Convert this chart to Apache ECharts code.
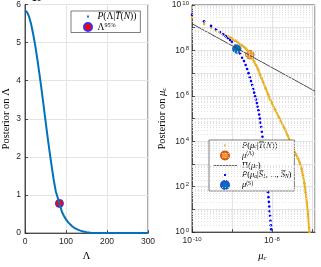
<!DOCTYPE html>
<html><head><meta charset="utf-8">
<script src="https://cdn.jsdelivr.net/npm/echarts@6/dist/echarts.min.js"></script>
<style>html,body{margin:0;padding:0;background:#fff}#c{width:321px;height:267px}</style>
</head><body><div id="c"></div>
<script>
// ---------- left panel data ----------
const lambdaVals = [0,5,10,15,20,25,30,35,40,45,50,55,60,65,70,75,80,85,90,95,100,105,110,115,120,125,130,135,140,150,160,170,180,190,200,220,240,260,280,300];
const postLambda = [5.84,5.80,5.68,5.48,5.22,4.92,4.57,4.19,3.80,3.38,2.95,2.53,2.13,1.76,1.40,1.10,0.92,0.74,0.56,0.45,0.36,0.29,0.23,0.18,0.14,0.11,0.085,0.065,0.048,0.025,0.011,0.005,0.002,0.001,0,0,0,0,0,0];
const lambda95 = [84, 0.78];
const leftXTicks = [0,100,200,300];
const leftYTicks = [0,1,2,3,4,5,6];
// ---------- right panel data ----------
// mu in units of 1e-10, posterior as log10 value
const blueMu = [1,2,3,4,5,6,7,8,9,10,12,14,16,18,20,22,24,26,28,30,32,34,36,38,40,42,44,46,48,50,52,54,56,58,60,62,64,66,68,70,72,74,76,78,80,82,84,86,88,90,92,94,96];
const blueLogP = [9.57,9.28,9.08,8.93,8.81,8.71,8.62,8.54,8.46,8.38,8.20,8.02,7.86,7.68,7.53,7.36,7.18,7.00,6.82,6.65,6.48,6.30,6.14,5.98,5.84,5.68,5.52,5.36,5.18,5.00,4.82,4.63,4.42,4.20,3.98,3.75,3.52,3.28,3.05,2.82,2.60,2.38,2.15,1.95,1.75,1.54,1.33,1.13,0.92,0.72,0.50,0.30,0.12];
const orangeMu = [1,2,3,4,5,6,7,8,9,10,12,14,16,18,20,22,24,26,28,30,33,36,40,45,50,55,60,70,80,90,100,120,150,200,250,300,350,400,450,500,550,600,650,700,750,800,850,870];
const orangeLogP = [9.45,9.16,8.99,8.88,8.79,8.71,8.66,8.61,8.57,8.52,8.43,8.35,8.28,8.21,8.15,8.09,8.02,7.94,7.85,7.76,7.62,7.50,7.35,7.17,6.95,6.78,6.61,6.33,6.07,5.85,5.68,5.40,5.05,4.62,4.25,3.90,3.62,3.42,3.25,3.05,2.80,2.50,2.15,1.75,1.30,0.80,0.20,0.0];
const priorMu = [1e-10, 1.2e-7];
const priorVal = [1.5e9, 1.6e6];
const muLambdaPt = [2.8e-9, 6.5e7];
const muSPt = [1.32e-9, 1.15e8];
const rightXRange = [1e-10, 1.2e-7];
const rightYRange = [1, 1e10];

const UNIT = 1e-10;
const blueData = blueMu.map((m,i)=>[m*UNIT, Math.pow(10, blueLogP[i])]);
const orangeData = orangeMu.map((m,i)=>[m*UNIT, Math.pow(10, orangeLogP[i])]);
const priorData = priorMu.map((m,i)=>[m, priorVal[i]]);

// minor grid positions for log axes (axis decoration)
const xMinor = [], yMinor = [];
for (let e=-10; e<=-8; e++) for (let m=2; m<=9; m++) { const v=m*Math.pow(10,e); if (v<rightXRange[1]) xMinor.push({xAxis:v}); }
for (let e=0; e<=9; e++) for (let m=2; m<=9; m++) yMinor.push({yAxis:m*Math.pow(10,e)});

const SANS = 'Liberation Sans';
const SERIF = 'Liberation Serif';
const TXT = '#262626';
const LFS = 8.5;
function mkRich(fs, lh){
  return {
    i:{fontFamily:SERIF,fontStyle:'italic',fontSize:fs,color:'#000',lineHeight:lh},
    r:{fontFamily:SERIF,fontSize:fs,color:'#000',lineHeight:lh},
    sub:{fontFamily:SERIF,fontStyle:'italic',fontSize:fs*0.65,color:'#000',lineHeight:5,verticalAlign:'bottom'},
    sup:{fontFamily:SERIF,fontSize:fs*0.65,color:'#000',lineHeight:5,verticalAlign:'top'}
  };
}
const richName = {
  i:{fontFamily:SERIF,fontStyle:'italic',fontSize:10.5,color:'#000',lineHeight:12},
  r:{fontFamily:SERIF,fontSize:10.5,color:'#000',lineHeight:12},
  sub:{fontFamily:SERIF,fontStyle:'italic',fontSize:7,color:'#000',lineHeight:7,verticalAlign:'bottom'}
};
const richTick = {
  b:{fontFamily:SANS,fontSize:LFS,color:TXT,lineHeight:10},
  e:{fontFamily:SANS,fontSize:6,color:TXT,lineHeight:6,verticalAlign:'top',padding:[0,0,0,1]}
};
const legendText = {
  'P(Λ|T(N))':'{i|P}{r|(Λ|}{i|T\u0305}{r|(}{i|N}{r|))}',
  'Λ95%':'{r|Λ}{sup|95%}',
  'P(μc|T(N))':'{i|P}{r|(}{i|μ}{sub|c}{r||}{i|T\u0305}{r|(}{i|N}{r|))}',
  'μ(Λ)':'{i|μ}{sup|(Λ)}',
  'Π(μc)':'{r|Π(}{i|μ}{sub|c}{r|)}',
  'P(μa|S)':'{i|P}{r|(}{i|μ}{sub|a}{r||}{i|S\u0305}{sub|1}{r|, ..., }{i|S\u0305}{sub|N}{r|)}',
  'μ(S)':'{i|μ}{sup|(S)}'
};
const DOT = 'path://M0,0M10,10M3.8,3.8h2.4v2.4h-2.4z';
const BAR = 'path://M0,0M24,8M0,3.6h24v0.8h-24z';

function logLabel(v, step){
  const e = Math.log10(v), r = Math.round(e);
  if (Math.abs(e-r) > 1e-6 || ((r % step) + step) % step !== 0) return '';
  return '{b|10}{e|' + r + '}';
}

const chart = echarts.init(document.getElementById('c'), null, {renderer:'canvas'});
const axisCommon = {
  axisLine:{show:true,lineStyle:{color:TXT,width:0.8}},
  axisTick:{show:true,inside:true,length:3,lineStyle:{color:TXT,width:0.8}},
  splitLine:{show:true,lineStyle:{color:'#e4e4e4',width:1}}
};
chart.setOption({
  animation:false,
  backgroundColor:'#fff',
  grid:[
    {left:25,top:4,width:123,height:232,show:true,borderColor:TXT,borderWidth:0.8,containLabel:false},
    {left:192,top:4,width:123,height:232,show:true,borderColor:TXT,borderWidth:0.8,containLabel:false}
  ],
  xAxis:[
    Object.assign({}, axisCommon, {gridIndex:0,type:'value',min:leftXTicks[0],max:leftXTicks[leftXTicks.length-1],interval:100,
      axisLabel:{fontFamily:SANS,fontSize:LFS,color:TXT,margin:4},
      name:'Λ',nameLocation:'middle',nameGap:12,nameTextStyle:{fontFamily:SERIF,fontSize:10.5,color:'#000'}}),
    Object.assign({}, axisCommon, {gridIndex:1,type:'log',logBase:10,min:rightXRange[0],max:rightXRange[1],interval:1,
      axisLabel:{formatter:v=>logLabel(v,2),rich:richTick,margin:4,showMaxLabel:false},
      name:'{i|μ}{sub|c}',nameLocation:'middle',nameGap:13,nameTextStyle:{rich:richName,padding:[0,0,0,18]}})
  ],
  yAxis:[
    Object.assign({}, axisCommon, {gridIndex:0,type:'value',min:leftYTicks[0],max:leftYTicks[leftYTicks.length-1],interval:1,
      axisLabel:{fontFamily:SANS,fontSize:LFS,color:TXT,margin:4},
      name:'Posterior on Λ',nameLocation:'middle',nameGap:13,nameTextStyle:{fontFamily:SERIF,fontSize:10.5,color:'#000'}}),
    Object.assign({}, axisCommon, {gridIndex:1,type:'log',logBase:10,min:rightYRange[0],max:rightYRange[1],interval:1,
      axisLabel:{formatter:v=>logLabel(v,2),rich:richTick,margin:3},
      name:'{r|Posterior on }{i|μ}{sub|c}',nameLocation:'middle',nameGap:24,nameTextStyle:{rich:richName}})
  ],
  legend:[
    {left:71,top:11,orient:'vertical',itemWidth:9,itemHeight:8,itemGap:0.5,padding:[0.5,4,0.5,12],
     backgroundColor:'#fff',borderColor:TXT,borderWidth:0.6,selectedMode:false,
     formatter:n=>legendText[n],textStyle:{rich:mkRich(9.5,10),lineHeight:10},
     data:[{name:'P(Λ|T(N))',icon:DOT},{name:'Λ95%',icon:'circle'}]},
    {left:209,top:140,orient:'vertical',itemWidth:24,itemHeight:8,itemGap:0.5,padding:[1,3,1,4],
     backgroundColor:'#fff',borderColor:TXT,borderWidth:0.6,selectedMode:false,
     formatter:n=>legendText[n],textStyle:{rich:mkRich(8.5,9),lineHeight:9},
     data:[{name:'P(μc|T(N))',icon:DOT},{name:'μ(Λ)',icon:'circle'},{name:'Π(μc)',icon:BAR},{name:'P(μa|S)',icon:DOT},{name:'μ(S)',icon:'circle'}]}
  ],
  graphic:[
    {type:'text',left:27,top:-6,style:{text:'{b|×10}{e|-3}',rich:richTick}}
  ],
  series:[
    {name:'P(Λ|T(N))',type:'line',xAxisIndex:0,yAxisIndex:0,data:lambdaVals.map((x,i)=>[x,postLambda[i]]),
     smooth:false,showSymbol:false,symbol:'none',lineStyle:{color:'#0072BD',width:2,join:'round'},itemStyle:{color:'#0072BD'}},
    {name:'Λ95%',type:'scatter',xAxisIndex:0,yAxisIndex:0,data:[lambda95],symbolSize:8,
     itemStyle:{color:'#FF0000',borderColor:'#3030ff',borderWidth:1,opacity:1}},
    {name:'grid-minor',type:'line',xAxisIndex:1,yAxisIndex:1,data:priorData,symbol:'none',lineStyle:{opacity:0},silent:true,z:1,
     markLine:{silent:true,symbol:['none','none'],label:{show:false},animation:false,
       lineStyle:{color:'#d9d9d9',width:0.8,type:[1,2]},emphasis:{disabled:true},data:xMinor.concat(yMinor)}},
    {name:'P(μc|T(N))-line',type:'line',xAxisIndex:1,yAxisIndex:1,data:orangeData.slice(7),symbol:'none',
     lineStyle:{color:'#EDB120',width:2},clip:true},
    {name:'P(μc|T(N))',type:'scatter',xAxisIndex:1,yAxisIndex:1,data:orangeData,symbolSize:2.6,
     itemStyle:{color:'#EDB120',opacity:1}},
    {name:'μ(Λ)',type:'scatter',xAxisIndex:1,yAxisIndex:1,data:[muLambdaPt],symbolSize:8.5,
     itemStyle:{color:'#F09A30',borderColor:'#D95319',borderWidth:0.8,opacity:1}},
    {name:'Π(μc)',type:'line',xAxisIndex:1,yAxisIndex:1,data:priorData,symbol:'none',
     lineStyle:{color:'#3a3a3a',width:0.9},itemStyle:{color:'#3a3a3a'}},
    {name:'P(μa|S)',type:'scatter',xAxisIndex:1,yAxisIndex:1,data:blueData,symbolSize:2.6,
     itemStyle:{color:'#0000FF',opacity:1}},
    {name:'μ(S)',type:'scatter',xAxisIndex:1,yAxisIndex:1,data:[muSPt],symbolSize:8.5,
     itemStyle:{color:'#0072BD',borderColor:'#2050d0',borderWidth:0.8,opacity:1}}
  ]
});
</script></body></html>
